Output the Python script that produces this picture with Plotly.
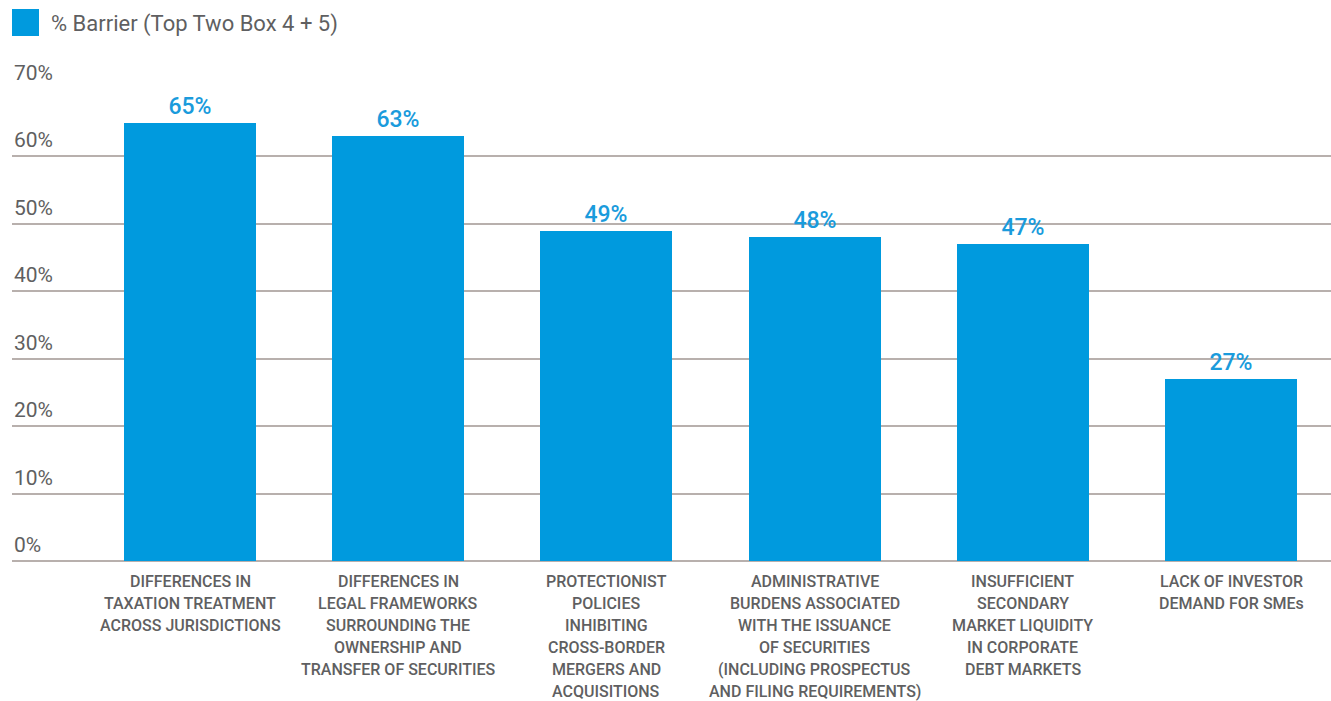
import plotly.graph_objects as go

categories = [
    "DIFFERENCES IN<br>TAXATION TREATMENT<br>ACROSS JURISDICTIONS",
    "DIFFERENCES IN<br>LEGAL FRAMEWORKS<br>SURROUNDING THE<br>OWNERSHIP AND<br>TRANSFER OF SECURITIES",
    "PROTECTIONIST<br>POLICIES<br>INHIBITING<br>CROSS-BORDER<br>MERGERS AND<br>ACQUISITIONS",
    "ADMINISTRATIVE<br>BURDENS ASSOCIATED<br>WITH THE ISSUANCE<br>OF SECURITIES<br>(INCLUDING PROSPECTUS<br>AND FILING REQUIREMENTS)",
    "INSUFFICIENT<br>SECONDARY<br>MARKET LIQUIDITY<br>IN CORPORATE<br>DEBT MARKETS",
    "LACK OF INVESTOR<br>DEMAND FOR SMEs",
]
values = [65, 63, 49, 48, 47, 27]
y_ticks = [0, 10, 20, 30, 40, 50, 60, 70]
series_name = "% Barrier (Top Two Box 4 + 5)"

BLUE = "#009ADE"
TEXT_GRAY = "#5f5f61"
GRID = "#b8b0ad"
FONT = "Roboto"

x_idx = list(range(len(categories)))

fig = go.Figure()
fig.add_trace(go.Bar(
    x=x_idx,
    y=values,
    width=0.634,
    marker=dict(color=BLUE, line=dict(width=0)),
    text=[f"{v}%" for v in values],
    textposition="outside",
    textfont=dict(family=FONT, size=23, color="#1a9bdc", weight=500),
    cliponaxis=False,
    showlegend=False,
    name=series_name,
))

annotations = []
# y tick labels above gridlines
for t in y_ticks:
    annotations.append(dict(
        x=0, xref="paper", y=t, yref="y",
        text=f"{t}%", showarrow=False,
        xanchor="left", yanchor="middle", yshift=16,
        font=dict(family=FONT, size=21, color=TEXT_GRAY),
    ))
# x category labels, line by line
for i, lab in enumerate(categories):
    for j, line in enumerate(lab.split("<br>")):
        annotations.append(dict(
            x=i, xref="x", y=0, yref="y",
            text=line, showarrow=False,
            xanchor="center", yanchor="middle", yshift=-(20 + 22 * j),
            font=dict(family=FONT, size=16, color=TEXT_GRAY, weight=500),
        ))

W, H = 1331, 701
ml, mr, mt, mb = 12, 0, 89, 140
pw, ph = W - ml - mr, H - mt - mb

# legend text
annotations.append(dict(
    x=(49 - ml) / pw, xref="paper", y=(H - mb - 24) / ph, yref="paper",
    text=series_name, showarrow=False,
    xanchor="left", yanchor="middle",
    font=dict(family=FONT, size=22, color=TEXT_GRAY),
))

fig.add_shape(
    type="rect", xref="paper", yref="paper",
    x0=(12 - ml) / pw, x1=(39 - ml) / pw,
    y0=(H - mb - 9) / ph, y1=(H - mb - 36) / ph,
    fillcolor=BLUE, line=dict(width=0),
)

fig.update_layout(
    width=W, height=H,
    margin=dict(l=ml, r=mr, t=mt, b=mb, pad=0),
    paper_bgcolor="white", plot_bgcolor="white",
    annotations=annotations,
    bargap=0,
    xaxis=dict(
        range=[-0.855, 5.48], showticklabels=False, showgrid=False,
        zeroline=False, showline=False, ticks="",
    ),
    yaxis=dict(
        range=[0, 70], tickvals=y_ticks, showticklabels=False,
        showgrid=True, gridcolor=GRID, gridwidth=1.5,
        zeroline=True, zerolinecolor=GRID, zerolinewidth=1.5,
        showline=False, ticks="",
    ),
    font=dict(family=FONT),
)

fig.write_html("out.html")
